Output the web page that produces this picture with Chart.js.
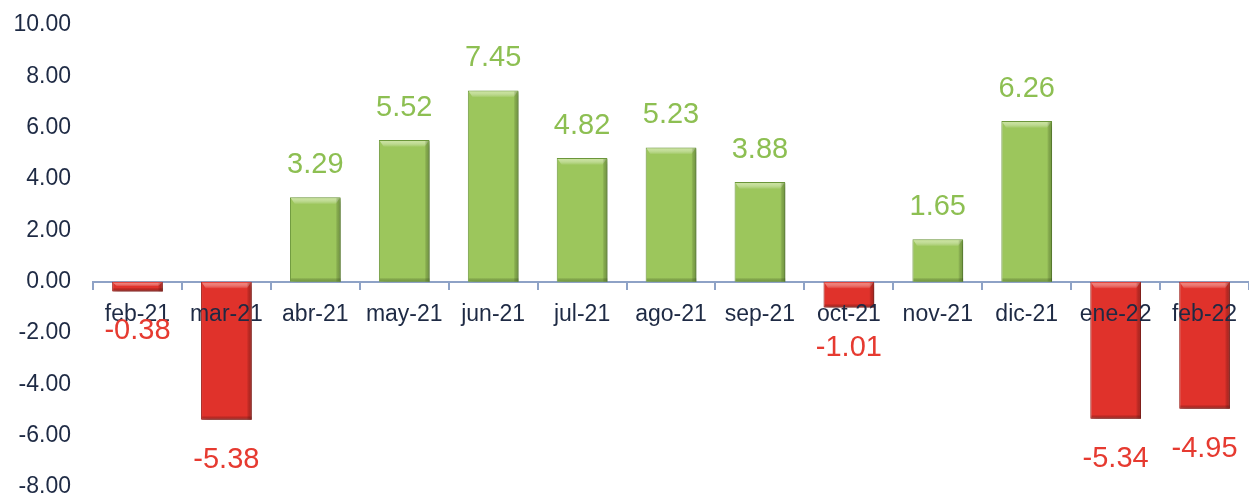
<!DOCTYPE html>
<html>
<head>
<meta charset="utf-8">
<script src="https://cdn.jsdelivr.net/npm/chart.js@4.4.1/dist/chart.umd.min.js"></script>
<style>
  html, body { margin: 0; padding: 0; background: #ffffff; }
  #wrap { width: 1249px; height: 494px; position: relative; }
</style>
</head>
<body>
<div id="wrap"><canvas id="c"></canvas></div>
<script>
const categories = ['feb-21','mar-21','abr-21','may-21','jun-21','jul-21','ago-21','sep-21','oct-21','nov-21','dic-21','ene-22','feb-22'];
const values = [-0.38, -5.38, 3.29, 5.52, 7.45, 4.82, 5.23, 3.88, -1.01, 1.65, 6.26, -5.34, -4.95];
const yTicks = [10, 8, 6, 4, 2, 0, -2, -4, -6, -8];

const GREEN = '#9cc65c', GREEN_DARK = '#5f8a2e', GREEN_LIGHT = '#c9e29a', GREEN_TEXT = '#8dbf52';
const RED = '#e0322b', RED_DARK = '#8f1c16', RED_LIGHT = '#f07a70', RED_TEXT = '#e63a30';
const NAVY = '#1e2a44', AXIS = '#8ea2c6';

const shadowPlugin = {
  id: 'barShadow',
  beforeDatasetsDraw(chart) {
    const ctx = chart.ctx;
    ctx.save();
    ctx.shadowColor = 'rgba(0,0,0,0.35)';
    ctx.shadowBlur = 5;
    ctx.shadowOffsetX = 3;
    ctx.shadowOffsetY = 3;
  },
  afterDatasetsDraw(chart) {
    chart.ctx.restore();
    const ctx = chart.ctx;
    const meta = chart.getDatasetMeta(0);
    ctx.save();
    meta.data.forEach((bar, i) => {
      const v = values[i];
      const left = bar.x - bar.width / 2;
      const top = Math.min(bar.y, bar.base);
      const h = Math.abs(bar.base - bar.y);
      const light = v >= 0 ? GREEN_LIGHT : RED_LIGHT;
      const dark = v >= 0 ? GREEN_DARK : RED_DARK;
      const bh = Math.min(7, h / 2);
      const g = ctx.createLinearGradient(0, top, 0, top + bh);
      g.addColorStop(0, light);
      g.addColorStop(1, 'rgba(255,255,255,0)');
      ctx.fillStyle = g;
      ctx.beginPath();
      ctx.moveTo(left + 1, top + 1);
      ctx.lineTo(left + bar.width - 1, top + 1);
      ctx.lineTo(left + bar.width - 5, top + bh);
      ctx.lineTo(left + 5, top + bh);
      ctx.closePath();
      ctx.fill();
      const gr = ctx.createLinearGradient(left + bar.width - 5, 0, left + bar.width, 0);
      gr.addColorStop(0, 'rgba(0,0,0,0)');
      gr.addColorStop(1, dark);
      ctx.fillStyle = gr;
      ctx.globalAlpha = 0.55;
      ctx.fillRect(left + bar.width - 5, top + 1, 5, h - 1);
      const gb = ctx.createLinearGradient(0, top + h - 4, 0, top + h);
      gb.addColorStop(0, 'rgba(0,0,0,0)');
      gb.addColorStop(1, dark);
      ctx.fillStyle = gb;
      ctx.fillRect(left + 1, top + h - 4, bar.width - 1, 4);
      ctx.globalAlpha = 1;
    });
    ctx.restore();
  }
};

const valueLabels = {
  id: 'valueLabels',
  afterDraw(chart) {
    const ctx = chart.ctx;
    const meta = chart.getDatasetMeta(0);
    ctx.save();
    ctx.font = '29px "Liberation Sans", Arial, sans-serif';
    ctx.textAlign = 'center';
    ctx.textBaseline = 'middle';
    meta.data.forEach((bar, i) => {
      const v = values[i];
      if (v >= 0) {
        ctx.fillStyle = GREEN_TEXT;
        ctx.fillText(v.toFixed(2), bar.x, bar.y - 32);
      } else {
        ctx.fillStyle = RED_TEXT;
        ctx.fillText(v.toFixed(2), bar.x, bar.y + 40);
      }
    });
    ctx.restore();
  }
};

new Chart(document.getElementById('c'), {
  type: 'bar',
  data: {
    labels: categories,
    datasets: [{
      data: values,
      backgroundColor: values.map(v => v >= 0 ? GREEN : RED),
      borderColor: values.map(v => v >= 0 ? '#6e9a3c' : '#a8231d'),
      borderWidth: 1,
      barPercentage: 0.57,
      categoryPercentage: 1.0
    }]
  },
  options: {
    responsive: true,
    maintainAspectRatio: false,
    animation: false,
    layout: { padding: { top: 25, bottom: 7, left: 0, right: 0 } },
    plugins: { legend: { display: false }, tooltip: { enabled: false } },
    scales: {
      x: {
        position: { y: 0 },
        afterFit(scale) { scale.height = 0; scale.paddingTop = 0; scale.paddingBottom = 0; scale.paddingLeft = 0; scale.paddingRight = 0; },
        grid: { drawOnChartArea: false, drawTicks: true, tickLength: 7, color: AXIS, lineWidth: 2, offset: true },
        border: { display: true, color: AXIS, width: 2 },
        ticks: {
          z: 1,
          color: NAVY,
          font: { family: '"Liberation Sans", Arial, sans-serif', size: 23 },
          padding: 12,
          maxRotation: 0,
          autoSkip: false
        }
      },
      y: {
        min: -8,
        max: 10,
        afterFit(scale) { scale.width = 93; scale.paddingTop = 0; scale.paddingBottom = 0; },
        afterBuildTicks(scale) { scale.ticks = yTicks.map(v => ({ value: v })); },
        grid: { display: false, drawTicks: false },
        border: { display: false },
        ticks: {
          color: NAVY,
          padding: 22,
          font: { family: '"Liberation Sans", Arial, sans-serif', size: 23 },
          callback: v => Number(v).toFixed(2)
        }
      }
    }
  },
  plugins: [shadowPlugin, valueLabels]
});
</script>
</body>
</html>
